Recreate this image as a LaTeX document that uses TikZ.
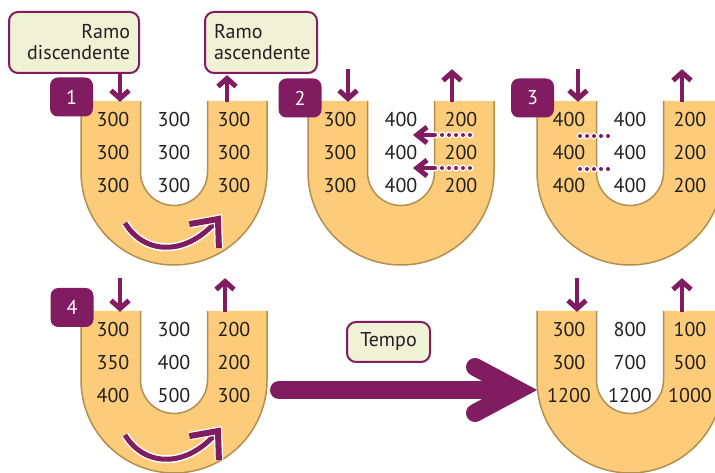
\documentclass[tikz,border=0pt]{standalone}
\usepackage{fontspec}
\setmainfont{PT Sans}
\usetikzlibrary{calc}
\definecolor{TubeClr}{rgb}{0.99,0.80,0.48}
\definecolor{EdgeClr}{rgb}{0.69,0.56,0.31}
\definecolor{FlowClr}{rgb}{0.51,0.11,0.38}
\definecolor{NoteClr}{rgb}{0.94,0.95,0.84}
\definecolor{TextClr}{rgb}{0.14,0.12,0.13}

\newcommand{\DrawTube}[3][71]{%
\fill[TubeClr] (#2-93,#3) -- (#2-93,#3-#1) arc[start angle=180,end angle=360,radius=93pt] -- (#2+93,#3) -- (#2+33.5,#3) -- (#2+33.5,#3-#1) arc[start angle=0,end angle=-180,radius=33.5pt] -- (#2-33.5,#3) -- cycle;
\draw[tubeedge] (#2-93,#3) -- (#2-93,#3-#1) arc[start angle=180,end angle=360,radius=93pt] -- (#2+93,#3);
\draw[tubeedge] (#2-33.5,#3) -- (#2-33.5,#3-#1) arc[start angle=180,end angle=360,radius=33.5pt] -- (#2+33.5,#3);
}

\newcommand{\TubeNums}[4]{%
\foreach \a/\b/\c [count=\r] in {#4}{%
\node[num] (#3l\r) at (#1-61,#2-19-33*\r+33) {\a};
\node[num] (#3m\r) at (#1,#2-19-33*\r+33) {\b};
\node[num] (#3r\r) at (#1+60,#2-19-33*\r+33) {\c};
}}

\begin{document}
\begin{tikzpicture}[x=1pt,y=1pt,
tubeedge/.style={EdgeClr,line width=1.5pt},
num/.style={text=TextClr,font=\fontsize{20}{24}\selectfont,inner sep=0pt},
badge/.style={fill=FlowClr,rounded corners=8pt,minimum width=43pt,minimum height=39pt,text=white,font=\fontsize{20}{24}\selectfont},
note/.style={draw=FlowClr,line width=2pt,fill=NoteClr,rounded corners=9pt,inner xsep=9pt,text=TextClr,font=\fontsize{20}{21}\selectfont},
flow/.style={FlowClr,line width=4pt,preaction={draw=white,line width=6pt}},
turn/.style={FlowClr,line width=5pt,preaction={draw=white,line width=8pt}},
leak/.style={FlowClr,line width=4pt,line cap=round,dash pattern=on 0pt off 7pt,preaction={draw=white,line width=7pt,line cap=round,dash pattern=on 0pt off 7pt}},
bigflow/.style={FlowClr,line width=18pt,line cap=round},
head/.style={pos=1,sloped,allow upside down},
tip/.pic={\draw[FlowClr,line width=5pt,line join=miter] (-8,9) -- (0,0) -- (-8,-9);},
leaktip/.pic={\draw[FlowClr,line width=5pt,line join=miter] (-10,8) -- (0,0) -- (-10,-8);},
bigtip/.pic={\draw[FlowClr,line width=6pt,line join=miter,preaction={draw=white,line width=8.5pt}] (-22,19) -- (0,0) -- (-22,-19);}]

\useasboundingbox (0,0) rectangle (715,473);

\DrawTube{174}{372}
\DrawTube{401}{372}
\DrawTube{630}{372}
\DrawTube[69]{174}{162}
\DrawTube[69]{630}{162}

\TubeNums{174}{372}{a}{300/300/300,300/300/300,300/300/300}
\TubeNums{401}{372}{b}{300/400/200,300/400/200,300/400/200}
\TubeNums{630}{372}{c}{400/400/200,400/400/200,400/400/200}
\TubeNums{174}{162}{d}{300/300/200,350/400/200,400/500/300}
\TubeNums{630}{162}{e}{300/800/100,300/700/500,1200/1200/1000}

\node[badge] (step1) at (71.5,376) {1};
\node[badge] (step2) at (300,375) {2};
\node[badge] (step3) at (532.5,375) {3};
\node[badge] (step4) at (72,165.5) {4};

\node[note,text width=112pt,align=right,minimum height=61pt] (desc) at (74,430.5) {Ramo\\discendente};
\node[note,text width=94pt,align=left,minimum height=61pt] (asc) at (261,430.5) {Ramo\\ascendente};
\node[note,minimum width=83pt,minimum height=40pt,inner xsep=6pt] (tempo) at (388.5,131) {Tempo};

\coordinate (in1) at (120,374.5);
\coordinate (out1) at (227,371);
\draw[flow] (desc.south -| in1) -- (in1) pic[head]{tip};
\draw[flow] (out1) -- ($(asc.south -| out1)+(0,-4.5)$) pic[head]{tip};

\coordinate (in2a) at (348,404);
\coordinate (in2b) at (348,374.5);
\coordinate (out2a) at (452,371);
\coordinate (out2b) at (452,400.5);
\draw[flow] (in2a) -- (in2b) pic[head]{tip};
\draw[flow] (out2a) -- (out2b) pic[head]{tip};

\coordinate (in3a) at (578,404);
\coordinate (in3b) at (578,374.5);
\coordinate (out3a) at (682,371);
\coordinate (out3b) at (682,400.5);
\draw[flow] (in3a) -- (in3b) pic[head]{tip};
\draw[flow] (out3a) -- (out3b) pic[head]{tip};

\coordinate (in4a) at (120,195);
\coordinate (in4b) at (120,164.5);
\coordinate (out4a) at (225,161);
\coordinate (out4b) at (225,191.5);
\draw[flow] (in4a) -- (in4b) pic[head]{tip};
\draw[flow] (out4a) -- (out4b) pic[head]{tip};

\coordinate (in5a) at (577,195);
\coordinate (in5b) at (577,164.5);
\coordinate (out5a) at (682,161);
\coordinate (out5b) at (682,191.5);
\draw[flow] (in5a) -- (in5b) pic[head]{tip};
\draw[flow] (out5a) -- (out5b) pic[head]{tip};

\draw[turn] (125,250) .. controls (145,217) and (188,217) .. (218,254) pic[head]{bigtip};
\draw[turn] (125,38) .. controls (145,5) and (188,5) .. (218,42) pic[head]{bigtip};

\coordinate (leak1a) at (470,338);
\coordinate (leak1b) at (434,338);
\coordinate (leak1c) at (417,338);
\coordinate (leak2a) at (470,305);
\coordinate (leak2b) at (434,305);
\coordinate (leak2c) at (417,305);
\draw[leak] (leak1a) -- (leak1b);
\draw[flow] (leak1b) -- (leak1c) pic[head]{leaktip};
\draw[leak] (leak2a) -- (leak2b);
\draw[flow] (leak2b) -- (leak2c) pic[head]{leaktip};

\coordinate (mix1a) at (580,337);
\coordinate (mix1b) at (613,337);
\coordinate (mix2a) at (580,304);
\coordinate (mix2b) at (613,304);
\draw[leak] (mix1a) -- (mix1b);
\draw[leak] (mix2a) -- (mix2b);

\coordinate (tempoA) at (279,83);
\coordinate (tempoB) at (518,83);
\draw[bigflow] (tempoA) -- ($(tempoB)+(-13,0)$);
\draw[bigflow,line join=miter] ($(tempoB)+(-43,23)$) -- (tempoB) -- ($(tempoB)+(-43,-23)$);

\end{tikzpicture}
\end{document}
